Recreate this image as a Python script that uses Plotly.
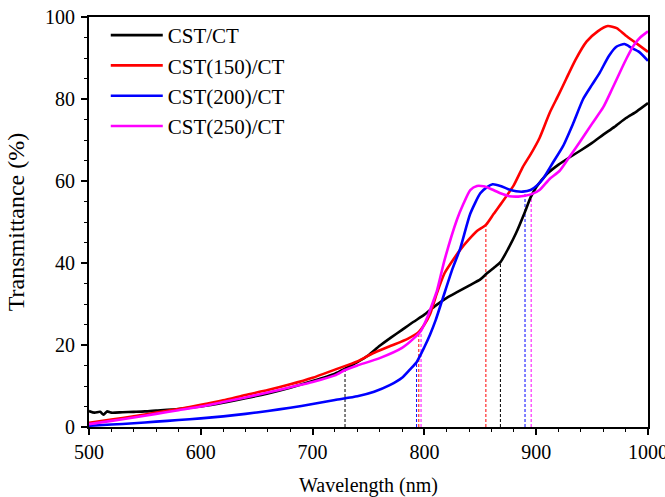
import plotly.graph_objects as go

# ---- data ----
x_cst = [500,505,510,513,516,520,530,540,550,560,580,600,620,640,660,680,700,720,729,740,750,760,770,780,790,800,810,820,830,840,850,856,862,868,875,882,890,895,900,910,920,930,940,950,960,970,980,990,1000]
y_cst = [3.9,3.5,3.7,3.0,3.8,3.5,3.6,3.7,3.8,4.0,4.4,5.0,5.9,7.0,8.2,9.6,11.2,13.0,14.2,15.8,17.5,19.8,21.8,23.7,25.6,27.4,29.6,31.5,33.0,34.5,36.0,37.5,38.8,40.2,43.5,47.3,52.5,56.0,58.5,61.8,64.0,65.8,67.5,69.3,71.3,73.2,75.3,77.0,79.0]

x_150 = [500,520,540,560,580,600,620,640,660,680,700,720,740,754,770,785,795,800,805,811,818,825,832,840,847,855,862,870,880,888,895,903,912,920,927,935,945,955,964,972,980,990,1000]
y_150 = [1.0,1.8,2.6,3.5,4.4,5.4,6.5,7.8,9.0,10.4,12.0,14.0,16.0,18.0,19.8,21.5,23.2,25.0,27.5,32.5,37.5,40.5,43.2,45.8,47.8,49.3,52.0,55.0,59.0,63.4,66.5,70.5,76.6,81.0,85.0,89.5,94.0,96.5,97.8,97.3,95.5,93.5,91.5]

x_200 = [500,520,540,560,580,600,620,640,660,680,700,720,740,755,769,780,787,793,800,805,810,816,825,832,841,850,856,861,868,875,882,888,895,901,906,915,924,933,942,950,957,965,972,979,985,992,1000]
y_200 = [0.3,0.6,0.9,1.3,1.7,2.1,2.6,3.2,3.9,4.7,5.6,6.6,7.5,8.6,10.2,12.0,14.0,15.8,19.5,22.5,26.0,31.0,38.5,43.5,52.0,57.0,58.5,59.2,58.8,58.0,57.5,57.4,57.8,59.0,60.5,64.5,68.5,74.0,80.0,83.5,86.5,90.5,92.8,93.4,92.5,91.5,89.3]

x_250 = [500,520,540,560,580,600,620,640,660,680,700,720,729,740,760,780,790,797,803,807,811,818,829,835,841,847,853,860,868,876,884,890,896,903,912,921,930,939,950,960,968,975,981,987,993,1000]
y_250 = [0.7,1.5,2.3,3.2,4.1,5.0,6.1,7.2,8.4,9.7,11.0,12.6,13.9,15.0,16.8,19.3,21.5,23.5,27.0,30.0,33.0,40.7,50.5,54.5,57.8,58.8,58.7,58.0,57.0,56.3,56.2,56.4,56.8,57.8,60.5,62.5,66.0,69.5,74.0,78.0,82.5,86.6,90.0,93.0,95.0,96.5]

series_names = ["CST/CT", "CST(150)/CT", "CST(200)/CT", "CST(250)/CT"]
series_colors = ["#000000", "#FF0000", "#0000FF", "#FF00FF"]
series_x = [x_cst, x_150, x_200, x_250]
series_y = [y_cst, y_150, y_200, y_250]

# dashed drop lines: wavelength, top value, series index
drop_x = [729, 793, 795, 797, 855, 868, 890, 895.5]
drop_top = [14.2, 15.8, 23.2, 23.5, 49.3, 40.2, 57.4, 56.8]
drop_series = [0, 2, 1, 3, 1, 0, 2, 3]

x_ticks = [500, 600, 700, 800, 900, 1000]
y_ticks = [0, 20, 40, 60, 80, 100]

FONT = "Liberation Serif, Times New Roman, serif"

fig = go.Figure()

for xv, top, si in zip(drop_x, drop_top, drop_series):
    fig.add_trace(go.Scatter(x=[xv, xv], y=[0, top], mode="lines",
                             line=dict(color=series_colors[si], width=1, dash="3px,2px"),
                             showlegend=False, hoverinfo="skip"))

for name, col, xs, ys in zip(series_names, series_colors, series_x, series_y):
    fig.add_trace(go.Scatter(x=xs, y=ys, mode="lines", name=name,
                             line=dict(color=col, width=2.6, shape="spline", smoothing=0.6)))

axis_common = dict(
    showgrid=False, zeroline=False, showline=True, linecolor="black", linewidth=2,
    mirror=True, ticks="outside", ticklen=6, tickwidth=1.5, tickcolor="black",
    tickfont=dict(family=FONT, size=20, color="black"),
    ticklabeloverflow="allow", automargin=False,
)

fig.update_layout(
    width=665, height=497,
    margin=dict(l=89, r=17, t=17, b=70),
    paper_bgcolor="white", plot_bgcolor="white",
    font=dict(family=FONT, color="black"),
    xaxis=dict(range=[500, 1000], tickvals=x_ticks,
               title=dict(text="Wavelength (nm)", font=dict(family=FONT, size=20), standoff=26),
               minor=dict(dtick=20, ticklen=3, ticks="outside", tickcolor="black", tickwidth=1),
               **axis_common),
    yaxis=dict(range=[0, 100], tickvals=y_ticks, ticklabelstandoff=2,
               title=dict(text="Transmittance (%)", font=dict(family=FONT, size=24), standoff=14),
               minor=dict(dtick=5, ticklen=3, ticks="outside", tickcolor="black", tickwidth=1),
               **axis_common),
    legend=dict(x=0.03, y=1.005, xanchor="left", yanchor="top",
                bgcolor="rgba(0,0,0,0)", borderwidth=0,
                font=dict(family=FONT, size=21, color="black"),
                tracegroupgap=0, itemwidth=52),
    showlegend=True,
)

fig.write_html("out.html")
